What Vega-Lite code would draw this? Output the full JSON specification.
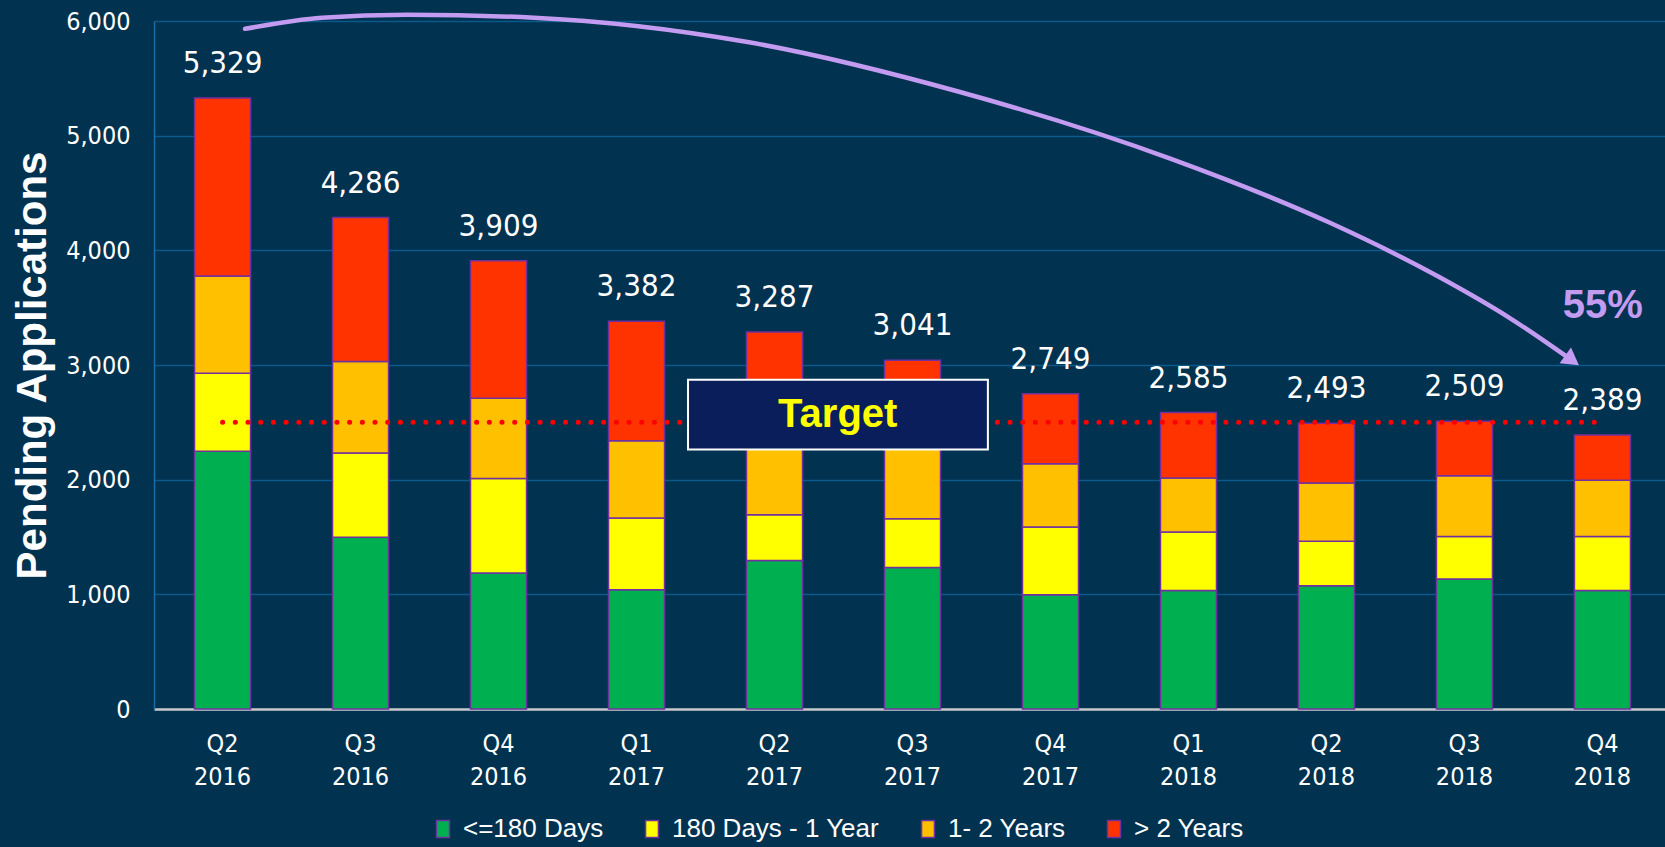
{
  "$schema": "https://vega.github.io/schema/vega-lite/v6.json",
  "width": 1511,
  "height": 688,
  "autosize": {"type": "none"},
  "padding": {"left": 154, "top": 21, "right": 0, "bottom": 138},
  "background": "#013250",
  "config": {
    "view": {"stroke": null},
    "font": "DejaVu Sans Condensed, Liberation Sans"
  },
  "datasets": {
    "segments": [
      {"quarter": "Q2 2016", "age": "<=180 Days", "count": 2247},
      {"quarter": "Q2 2016", "age": "180 Days - 1 Year", "count": 680},
      {"quarter": "Q2 2016", "age": "1- 2 Years", "count": 849},
      {"quarter": "Q2 2016", "age": "> 2 Years", "count": 1553},
      {"quarter": "Q3 2016", "age": "<=180 Days", "count": 1497},
      {"quarter": "Q3 2016", "age": "180 Days - 1 Year", "count": 735},
      {"quarter": "Q3 2016", "age": "1- 2 Years", "count": 799},
      {"quarter": "Q3 2016", "age": "> 2 Years", "count": 1255},
      {"quarter": "Q4 2016", "age": "<=180 Days", "count": 1186},
      {"quarter": "Q4 2016", "age": "180 Days - 1 Year", "count": 825},
      {"quarter": "Q4 2016", "age": "1- 2 Years", "count": 698},
      {"quarter": "Q4 2016", "age": "> 2 Years", "count": 1200},
      {"quarter": "Q1 2017", "age": "<=180 Days", "count": 1040},
      {"quarter": "Q1 2017", "age": "180 Days - 1 Year", "count": 626},
      {"quarter": "Q1 2017", "age": "1- 2 Years", "count": 674},
      {"quarter": "Q1 2017", "age": "> 2 Years", "count": 1042},
      {"quarter": "Q2 2017", "age": "<=180 Days", "count": 1296},
      {"quarter": "Q2 2017", "age": "180 Days - 1 Year", "count": 398},
      {"quarter": "Q2 2017", "age": "1- 2 Years", "count": 736},
      {"quarter": "Q2 2017", "age": "> 2 Years", "count": 857},
      {"quarter": "Q3 2017", "age": "<=180 Days", "count": 1235},
      {"quarter": "Q3 2017", "age": "180 Days - 1 Year", "count": 425},
      {"quarter": "Q3 2017", "age": "1- 2 Years", "count": 820},
      {"quarter": "Q3 2017", "age": "> 2 Years", "count": 561},
      {"quarter": "Q4 2017", "age": "<=180 Days", "count": 997},
      {"quarter": "Q4 2017", "age": "180 Days - 1 Year", "count": 590},
      {"quarter": "Q4 2017", "age": "1- 2 Years", "count": 552},
      {"quarter": "Q4 2017", "age": "> 2 Years", "count": 610},
      {"quarter": "Q1 2018", "age": "<=180 Days", "count": 1034},
      {"quarter": "Q1 2018", "age": "180 Days - 1 Year", "count": 509},
      {"quarter": "Q1 2018", "age": "1- 2 Years", "count": 471},
      {"quarter": "Q1 2018", "age": "> 2 Years", "count": 571},
      {"quarter": "Q2 2018", "age": "<=180 Days", "count": 1075},
      {"quarter": "Q2 2018", "age": "180 Days - 1 Year", "count": 387},
      {"quarter": "Q2 2018", "age": "1- 2 Years", "count": 509},
      {"quarter": "Q2 2018", "age": "> 2 Years", "count": 522},
      {"quarter": "Q3 2018", "age": "<=180 Days", "count": 1134},
      {"quarter": "Q3 2018", "age": "180 Days - 1 Year", "count": 371},
      {"quarter": "Q3 2018", "age": "1- 2 Years", "count": 530},
      {"quarter": "Q3 2018", "age": "> 2 Years", "count": 474},
      {"quarter": "Q4 2018", "age": "<=180 Days", "count": 1034},
      {"quarter": "Q4 2018", "age": "180 Days - 1 Year", "count": 471},
      {"quarter": "Q4 2018", "age": "1- 2 Years", "count": 489},
      {"quarter": "Q4 2018", "age": "> 2 Years", "count": 395}
    ],
    "ages": [
      {"age": "<=180 Days", "rank": 1},
      {"age": "180 Days - 1 Year", "rank": 2},
      {"age": "1- 2 Years", "rank": 3},
      {"age": "> 2 Years", "rank": 4}
    ],
    "curve": [
      {"x": 0.163, "y": 5932},
      {"x": 0.721, "y": 6029},
      {"x": 1.337, "y": 6055},
      {"x": 2.257, "y": 6029},
      {"x": 3.793, "y": 5819},
      {"x": 5.337, "y": 5383},
      {"x": 6.873, "y": 4798},
      {"x": 8.025, "y": 4240},
      {"x": 8.8, "y": 3778},
      {"x": 9.337, "y": 3403},
      {"x": 9.78, "y": 3040}
    ],
    "arrowhead": [{"x": 9.78, "y": 3040}],
    "target": [{"target": 2500}]
  },
  "layer": [
    {
      "layer": [
        {
          "data": {"name": "segments"},
          "transform": [
            {"lookup": "age", "from": {"data": {"name": "ages"}, "key": "age", "fields": ["rank"]}}
          ],
          "mark": {"type": "bar", "stroke": "#7030A0", "strokeWidth": 1.5},
          "encoding": {
            "x": {
              "field": "quarter", "type": "nominal", "sort": null,
              "scale": {"paddingInner": 0.594, "paddingOuter": 0.272, "align": 0.54},
              "axis": {
                "title": null, "labelAngle": 0,
                "labelExpr": "split(datum.label, ' ')",
                "labelFontSize": 25, "labelColor": "white",
                "labelLineHeight": 33, "labelPadding": 22,
                "ticks": false, "domainColor": "#C8C8C8", "domainWidth": 2.5
              }
            },
            "y": {
              "field": "count", "type": "quantitative", "stack": "zero",
              "scale": {"domain": [0, 6000], "nice": false},
              "axis": {
                "title": "Pending Applications",
                "titleFont": "Liberation Sans", "titleFontSize": 42, "titleFontWeight": "bold",
                "titleColor": "white", "titlePadding": 11,
                "values": [0, 1000, 2000, 3000, 4000, 5000, 6000],
                "format": ",.0f", "labelFontSize": 25, "labelColor": "white",
                "labelPadding": 24, "ticks": false,
                "domainColor": "#1B6DAA", "domainWidth": 1.5,
                "gridColor": "#0C5A8C", "gridWidth": 1.5
              }
            },
            "order": {"field": "rank", "type": "quantitative", "sort": "ascending"},
            "color": {
              "field": "age", "type": "nominal",
              "sort": ["<=180 Days", "180 Days - 1 Year", "1- 2 Years", "> 2 Years"],
              "scale": {
                "domain": ["<=180 Days", "180 Days - 1 Year", "1- 2 Years", "> 2 Years"],
                "range": ["#00B050", "#FFFF00", "#FFC000", "#FF3300"]
              },
              "legend": {
                "title": null, "orient": "none", "direction": "horizontal",
                "legendX": 276, "legendY": 795,
                "labelFontSize": 26, "labelColor": "white", "labelLimit": 400,
                "labelFont": "Liberation Sans",
                "symbolType": "M-0.76,-1H0.76V1H-0.76Z", "symbolSize": 289,
                "symbolStrokeColor": "#7030A0", "symbolStrokeWidth": 1.5, "symbolOpacity": 1,
                "columnPadding": 35, "labelOffset": 7
              }
            }
          }
        },
        {
          "data": {"name": "segments"},
          "transform": [
            {"aggregate": [{"op": "sum", "field": "count", "as": "total"}], "groupby": ["quarter"]}
          ],
          "mark": {"type": "text", "baseline": "alphabetic", "dy": -25, "fontSize": 31, "color": "white"},
          "encoding": {
            "x": {"field": "quarter", "type": "nominal", "sort": null},
            "y": {"field": "total", "type": "quantitative"},
            "text": {"field": "total", "type": "quantitative", "format": ","}
          }
        }
      ]
    },
    {
      "layer": [
        {
          "data": {"name": "target"},
          "mark": {"type": "rule", "color": "#FF0000", "strokeWidth": 5, "strokeDash": [0.1, 12.6], "strokeCap": "round"},
          "encoding": {
            "x": {"datum": 0, "type": "quantitative", "scale": {"domain": [-0.497, 10.453], "nice": false, "zero": false}, "axis": null},
            "x2": {"datum": 10},
            "y": {"field": "target", "type": "quantitative", "scale": {"domain": [0, 6000], "nice": false}}
          }
        },
        {
          "data": {"values": [{"label": "Target"}]},
          "mark": {"type": "rect", "fill": "#0A1E5C", "stroke": "white", "strokeWidth": 2},
          "encoding": {
            "x": {"datum": 3.373, "type": "quantitative"},
            "x2": {"datum": 5.546},
            "y": {"datum": 2262, "type": "quantitative"},
            "y2": {"datum": 2872}
          }
        },
        {
          "data": {"values": [{"label": "Target"}]},
          "mark": {"type": "text", "font": "Liberation Sans", "fontWeight": "bold", "fontSize": 40, "color": "#FFFF00", "align": "center", "baseline": "middle"},
          "encoding": {
            "x": {"datum": 4.458, "type": "quantitative"},
            "y": {"datum": 2567, "type": "quantitative"},
            "text": {"field": "label"}
          }
        },
        {
          "data": {"name": "curve"},
          "mark": {"type": "line", "interpolate": "monotone", "color": "#C39BF0", "strokeWidth": 4.5, "strokeCap": "round"},
          "encoding": {
            "x": {"field": "x", "type": "quantitative"},
            "y": {"field": "y", "type": "quantitative"}
          }
        },
        {
          "data": {"name": "arrowhead"},
          "mark": {"type": "point", "shape": "triangle-right", "angle": 36, "size": 380, "filled": true, "opacity": 1, "color": "#C39BF0"},
          "encoding": {
            "x": {"field": "x", "type": "quantitative"},
            "y": {"field": "y", "type": "quantitative"}
          }
        },
        {
          "data": {"values": [{"label": "55%"}]},
          "mark": {"type": "text", "font": "Liberation Sans", "fontWeight": "bold", "fontSize": 40, "color": "#C39BF0", "align": "center", "baseline": "middle"},
          "encoding": {
            "x": {"datum": 10.003, "type": "quantitative"},
            "y": {"datum": 3517, "type": "quantitative"},
            "text": {"field": "label"}
          }
        }
      ]
    }
  ],
  "resolve": {"scale": {"x": "independent"}}
}
